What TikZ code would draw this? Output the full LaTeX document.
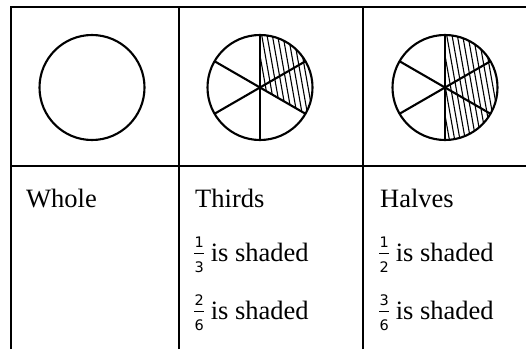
\documentclass[tikz,border=0pt]{standalone}
\usepackage{fontspec}
\setmainfont{Liberation Serif}
\newfontfamily\fracfont{DejaVu Sans}
\newcommand\myfr[2]{\rlap{\raisebox{14pt}{\makebox[10pt]{\fontsize{14.5}{14.5}\fracfont #1}}}%
\rlap{\raisebox{-11pt}{\makebox[10pt]{\fontsize{14.5}{14.5}\fracfont #2}}}%
\raisebox{7.2pt}{\rule{10pt}{1.1pt}}}
\tikzset{
  gridline/.style={line width=1.8pt},
  pie/.style={line width=2.1pt},
  hatch/.style={line width=1.1pt},
  celltext/.style={anchor=base west, inner sep=0pt, font=\fontsize{26.5}{30}\selectfont}
}
\begin{document}
\begin{tikzpicture}[x=1pt,y=1pt]
\useasboundingbox (0,0) rectangle (526,349);
% table lines
\draw[gridline] (11,0) -- (11,342) -- (526,342);
\draw[gridline] (179,0) -- (179,342);
\draw[gridline] (363,0) -- (363,342);
\draw[gridline] (11,183) -- (526,183);
% pies
\coordinate (c1) at (92,261.5);
\coordinate (c2) at (260,261.5);
\coordinate (c3) at (445,261.5);
\draw[pie] (c1) circle (52.5);
% thirds: shaded 90 to -30
\begin{scope}
\clip (c2) -- ([shift={(90:52.5)}]c2) arc (90:-30:52.5) -- cycle;
\foreach \i in {-25,...,25} \draw[hatch] ([shift={({5.3*\i},62)}]c2) -- ++(22,-124);
\end{scope}
% halves: shaded 90 to -90
\begin{scope}
\clip (c3) -- ([shift={(90:52.5)}]c3) arc (90:-90:52.5) -- cycle;
\foreach \i in {-25,...,25} \draw[hatch] ([shift={({5.3*\i},62)}]c3) -- ++(22,-124);
\end{scope}
\foreach \c in {c2,c3}{
  \draw[pie] (\c) circle (52.5);
  \foreach \a in {90,30,150}
    \draw[pie] ([shift={(\a:52.5)}]\c) -- ([shift={({\a+180}:52.5)}]\c);
}
% texts
\node[celltext] (whole) at (26,142) {Whole};
\node[celltext] (thirds) at (195,142) {Thirds};
\node[celltext] (halves) at (380,142) {Halves};
\node[celltext] (t1) at (194,87.5) {\myfr13 is shaded};
\node[celltext] (t2) at (194,29.5) {\myfr26 is shaded};
\node[celltext] (h1) at (379,87.5) {\myfr12 is shaded};
\node[celltext] (h2) at (379,29.5) {\myfr36 is shaded};
\end{tikzpicture}
\end{document}
